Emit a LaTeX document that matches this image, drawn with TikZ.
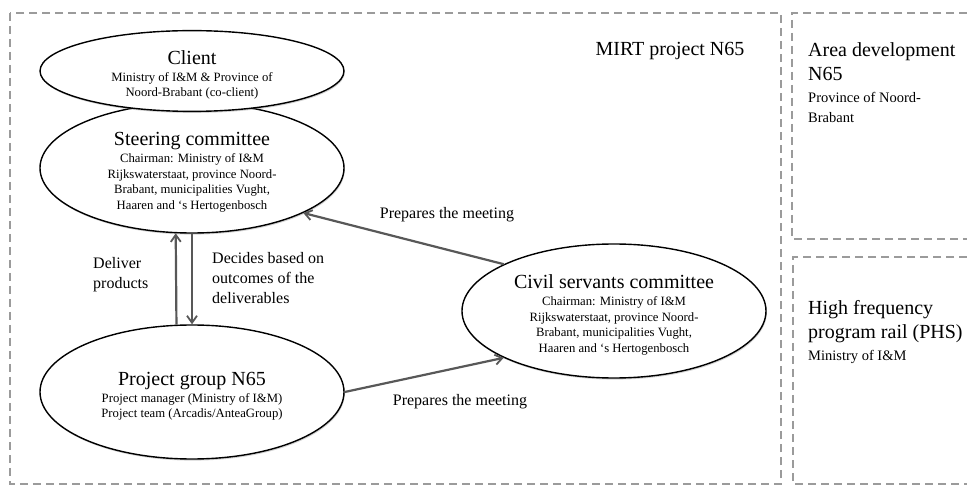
\documentclass[tikz,border=0pt]{standalone}
\usepackage{fontspec}
\setmainfont{Liberation Serif}
\usetikzlibrary{arrows.meta,shapes.geometric,shadows}
\definecolor{boxgray}{RGB}{155,155,155}
\definecolor{arrgray}{RGB}{88,88,88}
\newcommand{\titf}{\fontsize{20}{24}\selectfont}
\newcommand{\subf}{\fontsize{12.7}{15.7}\selectfont}
\newcommand{\labf}{\fontsize{16}{20}\selectfont}
\newcommand{\sidef}{\fontsize{14.5}{20}\selectfont}
\newcommand{\topstrut}{\rule{0pt}{22pt}}
\tikzset{
  dbox/.style={draw=boxgray, line width=2.7pt, dash pattern=on 8pt off 5pt},
  orgell/.style={ellipse, draw=black, line width=1.4pt, fill=white, inner sep=0pt,
    align=center, font=\subf,
    drop shadow={shadow xshift=0.8pt, shadow yshift=-1.6pt, opacity=0.35}},
  conn/.style={draw=arrgray, line width=2.2pt, -{Straight Barb[length=7pt,width=10pt,line width=1.8pt]}},
  lab/.style={font=\labf, align=left, inner sep=0pt},
}
\begin{document}
\begin{tikzpicture}[x=1pt,y=-1pt]
\useasboundingbox (0,0) rectangle (967,486);
\fill[white] (0,0) rectangle (967,486);
% dashed frames
\draw[dbox] (10,13) rectangle (781,484);
\draw[dbox] (967,13) -- (792,13) -- (792,239) -- (967,239);
\draw[dbox] (967,257) -- (793,257) -- (793,484) -- (967,484);
% ellipses
\node[orgell, minimum width=304pt, minimum height=130pt] (steer) at (192,168)
  {{\titf\topstrut Steering committee}\\[1pt] Chairman: Ministry of I\&M\\ Rijkswaterstaat, province Noord-\\ Brabant, municipalities Vught,\\ Haaren and `s Hertogenbosch};
\node[orgell, minimum width=304pt, minimum height=76pt] (client) at (192,71)
  {{\titf\topstrut Client}\\[1pt] Ministry of I\&M \& Province of\\ Noord-Brabant (co-client)};
\node[orgell, minimum width=304pt, minimum height=134pt] (proj) at (192,392)
  {{\titf\topstrut Project group N65}\\[1pt] Project manager (Ministry of I\&M)\\ Project team (Arcadis/AnteaGroup)};
\node[orgell, minimum width=304pt, minimum height=134pt] (civ) at (614,311)
  {{\titf\topstrut Civil servants committee}\\[1pt] Chairman: Ministry of I\&M\\ Rijkswaterstaat, province Noord-\\ Brabant, municipalities Vught,\\ Haaren and `s Hertogenbosch};
% connectors
\draw[conn] (proj.103.5) -- (steer.256.1);
\draw[conn] (steer.south) -- (proj.north);
\draw[conn] (civ.157.5) -- (steer.338);
\draw[conn] (proj.east) -- (civ.203);
% labels
\node[lab, anchor=west] (ldel) at (93,275) {Deliver\\products};
\node[lab, anchor=west] (ldec) at (212,278) {Decides based on\\outcomes of the\\deliverables};
\node[lab] (lprep1) at (447,215) {Prepares the meeting};
\node[lab] (lprep2) at (460,402) {Prepares the meeting};
\node[font=\titf, inner sep=0pt] (mirt) at (670,51) {MIRT project N65};
\node[anchor=north west, align=left, inner sep=0pt, font=\titf] (area) at (808,42)
  {Area development\\N65\\[-2pt]{\sidef Province of Noord-}\\[-4pt]{\sidef Brabant}};
\node[anchor=north west, align=left, inner sep=0pt, font=\titf] (hf) at (808,300)
  {High frequency\\program rail (PHS)\\[-2pt]{\sidef Ministry of I\&M}};
\end{tikzpicture}
\end{document}
